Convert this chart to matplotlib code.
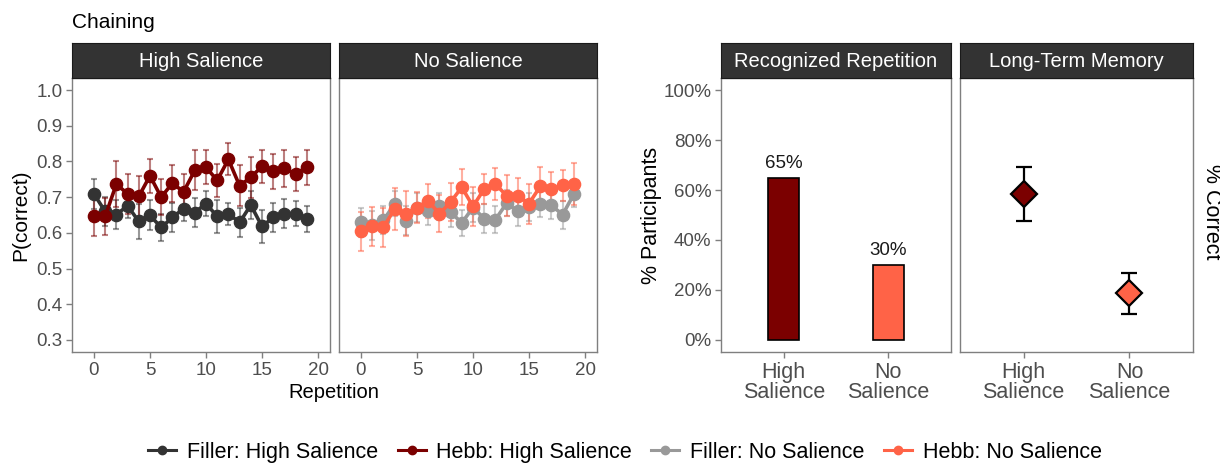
import matplotlib
matplotlib.use("Agg")
import matplotlib.pyplot as plt
from matplotlib.lines import Line2D

plt.rcParams['font.family'] = ['Liberation Sans', 'DejaVu Sans']

# ---------------- data ----------------
repetitions = list(range(20))

filler_high = [0.709, 0.660, 0.651, 0.676, 0.632, 0.649, 0.615, 0.643, 0.668, 0.657,
               0.682, 0.646, 0.654, 0.629, 0.678, 0.618, 0.643, 0.654, 0.654, 0.638]
filler_high_err = [0.042, 0.040, 0.040, 0.034, 0.049, 0.042, 0.037, 0.040, 0.035, 0.040,
                   0.034, 0.047, 0.031, 0.041, 0.039, 0.047, 0.041, 0.041, 0.036, 0.036]

hebb_high = [0.648, 0.646, 0.737, 0.709, 0.702, 0.760, 0.700, 0.739, 0.715, 0.775,
             0.784, 0.747, 0.806, 0.732, 0.756, 0.786, 0.772, 0.781, 0.765, 0.784]
hebb_high_err = [0.056, 0.052, 0.064, 0.057, 0.057, 0.047, 0.050, 0.052, 0.051, 0.056,
                 0.048, 0.047, 0.045, 0.057, 0.057, 0.045, 0.049, 0.052, 0.047, 0.049]

filler_no = [0.630, 0.621, 0.635, 0.681, 0.634, 0.671, 0.660, 0.674, 0.658, 0.628,
             0.671, 0.640, 0.637, 0.683, 0.660, 0.672, 0.682, 0.677, 0.651, 0.708]
filler_no_err = [0.041, 0.040, 0.039, 0.035, 0.041, 0.040, 0.039, 0.038, 0.043, 0.036,
                 0.041, 0.040, 0.037, 0.037, 0.040, 0.039, 0.039, 0.038, 0.039, 0.036]

hebb_no = [0.604, 0.618, 0.615, 0.667, 0.654, 0.671, 0.690, 0.653, 0.686, 0.728,
           0.674, 0.723, 0.737, 0.704, 0.704, 0.682, 0.730, 0.723, 0.733, 0.737]
hebb_no_err = [0.054, 0.054, 0.056, 0.059, 0.063, 0.043, 0.048, 0.052, 0.053, 0.050,
               0.055, 0.043, 0.044, 0.057, 0.050, 0.056, 0.055, 0.047, 0.044, 0.058]

salience_labels = ["High\nSalience", "No\nSalience"]
recognized_pct = [0.65, 0.30]
recognized_text = ["65%", "30%"]
ltm_mean = [0.584, 0.185]
ltm_low = [0.474, 0.103]
ltm_high = [0.693, 0.266]

left_ticks_y = [0.3, 0.4, 0.5, 0.6, 0.7, 0.8, 0.9, 1.0]
left_ticks_x = [0, 5, 10, 15, 20]
pct_ticks = [0.0, 0.2, 0.4, 0.6, 0.8, 1.0]
pct_tick_labels = ["0%", "20%", "40%", "60%", "80%", "100%"]

legend_labels = ["Filler: High Salience", "Hebb: High Salience",
                 "Filler: No Salience", "Hebb: No Salience"]

# ---------------- style ----------------
C_FILLER_HIGH = '#333333'
C_HEBB_HIGH = '#7B0000'
C_FILLER_NO = '#999999'
C_HEBB_NO = '#FF6347'
BORDER = '#7F7F7F'
TICKCOL = '#4D4D4D'
STRIP = '#333333'

W, H = 1220, 465
fig = plt.figure(figsize=(W / 100, H / 100), dpi=100)


def ax_px(x0, y0, x1, y1):
    return fig.add_axes([x0 / W, 1 - y1 / H, (x1 - x0) / W, (y1 - y0) / H])


def style_panel(ax):
    for s in ax.spines.values():
        s.set_color(BORDER)
        s.set_linewidth(1.0)
    ax.tick_params(axis='both', direction='out', length=4, width=1.0,
                   color=BORDER, labelcolor=TICKCOL, labelsize=13.5, pad=3)


def strip(x0, x1, text):
    s = ax_px(x0, 43, x1, 78)
    s.set_xticks([])
    s.set_yticks([])
    s.set_facecolor(STRIP)
    for sp in s.spines.values():
        sp.set_color('#1a1a1a')
        sp.set_linewidth(0.8)
    s.text(0.5, 0.47, text, color='white', fontsize=14.5, ha='center', va='center',
           transform=s.transAxes)


def draw_series(ax, y, err, color):
    ax.errorbar(repetitions, y, yerr=err, fmt='none', ecolor=color, alpha=0.5,
                elinewidth=1.5, capsize=2.5, capthick=1.5, zorder=2)
    ax.plot(repetitions, y, color=color, lw=2.6, marker='o', ms=8.8, zorder=3)


# ---------------- left: chaining ----------------
axA = ax_px(72, 78, 330, 352)
axB = ax_px(339, 78, 597, 352)
for ax in (axA, axB):
    style_panel(ax)
    ax.set_xlim(-1.96, 21.07)
    ax.set_ylim(0.266, 1.034)
    ax.set_xticks(left_ticks_x)

axA.set_yticks(left_ticks_y)
axA.set_yticklabels([f"{v:.1f}" for v in left_ticks_y])
axB.set_yticks([])

draw_series(axA, filler_high, filler_high_err, C_FILLER_HIGH)
draw_series(axA, hebb_high, hebb_high_err, C_HEBB_HIGH)
draw_series(axB, filler_no, filler_no_err, C_FILLER_NO)
draw_series(axB, hebb_no, hebb_no_err, C_HEBB_NO)

strip(72, 330, "High Salience")
strip(339, 597, "No Salience")

axA.set_ylabel("P(correct)", fontsize=15, color='black', labelpad=4)
fig.text(334 / W, 1 - 392 / H, "Repetition", fontsize=14.5, ha='center', va='center')
fig.text(72 / W, 1 - 22 / H, "Chaining", fontsize=15, ha='left', va='center')

# ---------------- right: recognition & LTM ----------------
axC = ax_px(721, 78, 951, 352)
axD = ax_px(960, 78, 1193, 352)
for ax in (axC, axD):
    style_panel(ax)
    ax.set_xlim(0.4, 2.6)
    ax.set_ylim(-0.05, 1.05)
    ax.set_xticks([1, 2])
    ax.set_xticklabels(salience_labels, fontsize=15.5, linespacing=0.95)

axC.set_yticks(pct_ticks)
axC.set_yticklabels(pct_tick_labels)
axD.set_yticks([])

bar_colors = [C_HEBB_HIGH, C_HEBB_NO]
axC.bar([1, 2], recognized_pct, width=0.3, color=bar_colors,
        edgecolor='black', linewidth=1.2, zorder=2)
for xi, v, t in zip([1, 2], recognized_pct, recognized_text):
    axC.text(xi, v + 0.04, t, ha='center', va='baseline', fontsize=13.5, color='#1a1a1a')

for xi, m, lo, hi, c in zip([1, 2], ltm_mean, ltm_low, ltm_high, bar_colors):
    axD.errorbar([xi], [m], yerr=[[m - lo], [hi - m]], fmt='none', ecolor='black',
                 elinewidth=1.6, capsize=5.5, capthick=1.6, zorder=2)
    axD.plot([xi], [m], marker='D', ms=13, color=c, markeredgecolor='black',
             markeredgewidth=1.6, zorder=3)

strip(721, 951, "Recognized Repetition")
strip(960, 1193, "Long-Term Memory")

axC.set_ylabel("% Participants", fontsize=15.5, color='black', labelpad=1)
fig.text(1211 / W, 1 - 212 / H, "% Correct", fontsize=15.5, rotation=270,
         ha='center', va='center')

# ---------------- legend ----------------
handles = [Line2D([0], [0], color=c, lw=2.2, marker='o', ms=6)
           for c in (C_FILLER_HIGH, C_HEBB_HIGH, C_FILLER_NO, C_HEBB_NO)]
fig.legend(handles, legend_labels, ncol=4, loc='center',
           bbox_to_anchor=(625 / W, 1 - 452 / H), frameon=False, fontsize=15.5,
           handlelength=1.3, handletextpad=0.5, columnspacing=0.9)

fig.savefig("out.png", dpi=100, facecolor='white')
